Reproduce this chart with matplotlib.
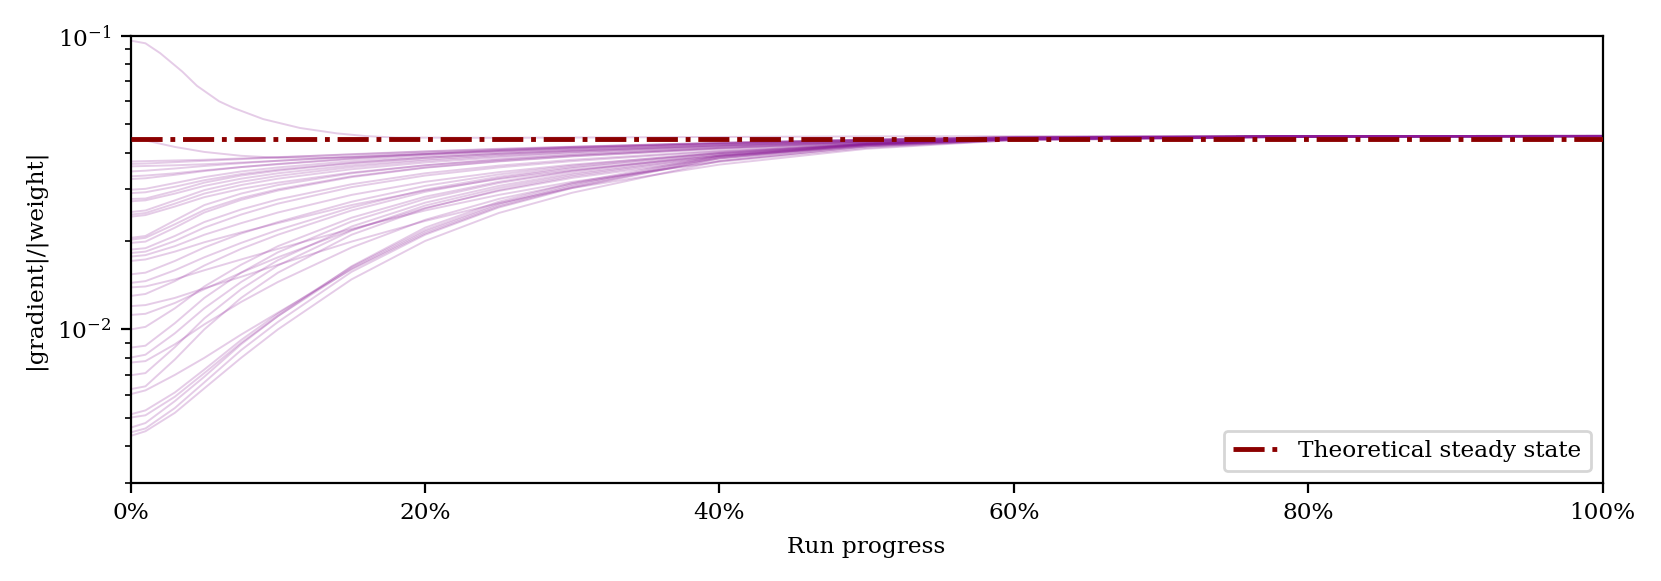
import matplotlib
matplotlib.use("Agg")
import matplotlib.pyplot as plt
from matplotlib.ticker import FuncFormatter

plt.rcParams['font.family'] = ['DejaVu Serif']
plt.rcParams['mathtext.fontset'] = 'dejavuserif'
plt.rcParams['font.size'] = 8.4

# run progress (%) at which each curve is sampled
progress = [0, 1, 3, 5, 7.5, 10, 15, 20, 25, 30, 40, 50, 60, 80, 100]
# the single curve that starts above the steady state is read at finer steps
progress_a = [0, 1, 2, 3.5, 4.5, 6, 7, 9, 11.5, 14, 16, 18, 25, 30, 40, 50, 60, 80, 100]

steady_state = 0.0446

family_a = [
    [0.0962, 0.0942, 0.0872, 0.0755, 0.0675, 0.0598, 0.0567, 0.0520, 0.0485, 0.0465, 0.0455, 0.0450, 0.0449, 0.0450, 0.0452, 0.0454, 0.0455, 0.0455, 0.0455],
]
family_b = [
    [0.0446, 0.0440, 0.0418, 0.0402, 0.0390, 0.0384, 0.0385, 0.0395, 0.0408, 0.0418, 0.0432, 0.0443, 0.0452, 0.0455, 0.0455],
]
family_c = [
    [0.0373, 0.0374, 0.0376, 0.0378, 0.0382, 0.0386, 0.0394, 0.0403, 0.0411, 0.0418, 0.0431, 0.0442, 0.0451, 0.0455, 0.0456],
    [0.0366, 0.0367, 0.0371, 0.0375, 0.0380, 0.0385, 0.0395, 0.0404, 0.0412, 0.0419, 0.0432, 0.0443, 0.0452, 0.0455, 0.0456],
    [0.0359, 0.0360, 0.0362, 0.0365, 0.0370, 0.0375, 0.0386, 0.0396, 0.0405, 0.0413, 0.0428, 0.0441, 0.0450, 0.0455, 0.0455],
    [0.0345, 0.0347, 0.0353, 0.0360, 0.0368, 0.0375, 0.0388, 0.0399, 0.0408, 0.0416, 0.0430, 0.0442, 0.0451, 0.0455, 0.0456],
    [0.0332, 0.0334, 0.0340, 0.0348, 0.0357, 0.0365, 0.0380, 0.0393, 0.0403, 0.0412, 0.0427, 0.0440, 0.0450, 0.0454, 0.0455],
    [0.0325, 0.0327, 0.0336, 0.0346, 0.0357, 0.0366, 0.0382, 0.0395, 0.0405, 0.0414, 0.0429, 0.0441, 0.0451, 0.0455, 0.0456],
]
family_d = [
    [0.0299, 0.0301, 0.0315, 0.0330, 0.0345, 0.0356, 0.0374, 0.0388, 0.0399, 0.0408, 0.0424, 0.0438, 0.0449, 0.0455, 0.0456],
    [0.0291, 0.0293, 0.0306, 0.0322, 0.0338, 0.0350, 0.0369, 0.0384, 0.0396, 0.0406, 0.0423, 0.0437, 0.0448, 0.0454, 0.0455],
    [0.0278, 0.0279, 0.0296, 0.0316, 0.0334, 0.0347, 0.0368, 0.0384, 0.0396, 0.0406, 0.0423, 0.0437, 0.0448, 0.0455, 0.0456],
    [0.0273, 0.0275, 0.0290, 0.0308, 0.0326, 0.0340, 0.0362, 0.0379, 0.0392, 0.0403, 0.0421, 0.0436, 0.0448, 0.0454, 0.0455],
    [0.0251, 0.0254, 0.0275, 0.0298, 0.0318, 0.0333, 0.0357, 0.0375, 0.0389, 0.0401, 0.0420, 0.0436, 0.0448, 0.0455, 0.0456],
    [0.0246, 0.0249, 0.0268, 0.0290, 0.0310, 0.0326, 0.0351, 0.0370, 0.0385, 0.0398, 0.0418, 0.0435, 0.0447, 0.0454, 0.0455],
    [0.0242, 0.0245, 0.0262, 0.0282, 0.0301, 0.0316, 0.0342, 0.0362, 0.0378, 0.0392, 0.0415, 0.0433, 0.0446, 0.0454, 0.0455],
]
family_e = [
    [0.0205, 0.0208, 0.0235, 0.0265, 0.0290, 0.0310, 0.0340, 0.0362, 0.0379, 0.0393, 0.0415, 0.0433, 0.0446, 0.0454, 0.0455],
    [0.0202, 0.0205, 0.0228, 0.0255, 0.0280, 0.0300, 0.0332, 0.0356, 0.0374, 0.0389, 0.0413, 0.0432, 0.0446, 0.0454, 0.0455],
    [0.0197, 0.0199, 0.0222, 0.0250, 0.0276, 0.0297, 0.0330, 0.0355, 0.0373, 0.0388, 0.0412, 0.0431, 0.0445, 0.0454, 0.0455],
    [0.0187, 0.0189, 0.0208, 0.0232, 0.0256, 0.0277, 0.0312, 0.0340, 0.0361, 0.0378, 0.0406, 0.0428, 0.0444, 0.0453, 0.0455],
    [0.0182, 0.0184, 0.0200, 0.0222, 0.0246, 0.0268, 0.0305, 0.0334, 0.0356, 0.0374, 0.0404, 0.0427, 0.0444, 0.0453, 0.0455],
    [0.0177, 0.0179, 0.0192, 0.0210, 0.0230, 0.0250, 0.0287, 0.0318, 0.0343, 0.0364, 0.0398, 0.0424, 0.0442, 0.0453, 0.0455],
    [0.0171, 0.0173, 0.0184, 0.0198, 0.0214, 0.0230, 0.0265, 0.0297, 0.0325, 0.0349, 0.0390, 0.0420, 0.0440, 0.0452, 0.0455],
]
family_n = [
    [0.0154, 0.0156, 0.0171, 0.0190, 0.0212, 0.0232, 0.0272, 0.0308, 0.0337, 0.0361, 0.0401, 0.0430, 0.0447, 0.0454, 0.0455],
    [0.0144, 0.0146, 0.0159, 0.0176, 0.0197, 0.0218, 0.0260, 0.0299, 0.0331, 0.0357, 0.0399, 0.0429, 0.0446, 0.0454, 0.0455],
    [0.0139, 0.0140, 0.0148, 0.0159, 0.0173, 0.0188, 0.0220, 0.0254, 0.0287, 0.0318, 0.0372, 0.0415, 0.0442, 0.0453, 0.0455],
    [0.0130, 0.0132, 0.0146, 0.0165, 0.0188, 0.0210, 0.0254, 0.0294, 0.0327, 0.0354, 0.0398, 0.0428, 0.0446, 0.0454, 0.0455],
    [0.0120, 0.0121, 0.0128, 0.0138, 0.0151, 0.0166, 0.0199, 0.0234, 0.0269, 0.0303, 0.0364, 0.0412, 0.0441, 0.0453, 0.0455],
    [0.0112, 0.0113, 0.0123, 0.0137, 0.0156, 0.0176, 0.0218, 0.0259, 0.0296, 0.0328, 0.0382, 0.0421, 0.0444, 0.0454, 0.0455],
]
family_m = [
    [0.0100, 0.0102, 0.0118, 0.0140, 0.0166, 0.0192, 0.0240, 0.0283, 0.0318, 0.0347, 0.0395, 0.0428, 0.0446, 0.0454, 0.0455],
    [0.00867, 0.0088, 0.0105, 0.0128, 0.0156, 0.0183, 0.0233, 0.0278, 0.0315, 0.0345, 0.0394, 0.0427, 0.0446, 0.0454, 0.0455],
    [0.00802, 0.0082, 0.0097, 0.0118, 0.0145, 0.0172, 0.0224, 0.0270, 0.0308, 0.0340, 0.0391, 0.0426, 0.0445, 0.0454, 0.0455],
    [0.00771, 0.0078, 0.0089, 0.0104, 0.0124, 0.0145, 0.0190, 0.0236, 0.0278, 0.0314, 0.0375, 0.0419, 0.0443, 0.0453, 0.0455],
    [0.00698, 0.0071, 0.0087, 0.0109, 0.0137, 0.0165, 0.0217, 0.0264, 0.0303, 0.0336, 0.0389, 0.0425, 0.0445, 0.0454, 0.0455],
    [0.00626, 0.0064, 0.0079, 0.0100, 0.0128, 0.0156, 0.0210, 0.0258, 0.0298, 0.0332, 0.0387, 0.0424, 0.0445, 0.0454, 0.0455],
]
family_l = [
    [0.00602, 0.0062, 0.0070, 0.0080, 0.0096, 0.0114, 0.0160, 0.0212, 0.0262, 0.0305, 0.0383, 0.0425, 0.0446, 0.0454, 0.0455],
    [0.00514, 0.0053, 0.0061, 0.0073, 0.0092, 0.0113, 0.0163, 0.0218, 0.0268, 0.0311, 0.0388, 0.0428, 0.0447, 0.0454, 0.0455],
    [0.00501, 0.0051, 0.0059, 0.0071, 0.0090, 0.0111, 0.0161, 0.0215, 0.0265, 0.0308, 0.0386, 0.0427, 0.0446, 0.0454, 0.0455],
    [0.00463, 0.0048, 0.0057, 0.0069, 0.0089, 0.0111, 0.0164, 0.0222, 0.0272, 0.0315, 0.0391, 0.0429, 0.0447, 0.0454, 0.0455],
    [0.00446, 0.0046, 0.0054, 0.0066, 0.0085, 0.0106, 0.0157, 0.0210, 0.0260, 0.0303, 0.0382, 0.0424, 0.0445, 0.0454, 0.0455],
    [0.00434, 0.0045, 0.0052, 0.0063, 0.0080, 0.0100, 0.0148, 0.0200, 0.0249, 0.0292, 0.0374, 0.0420, 0.0444, 0.0453, 0.0455],
]

x_ticks = [0, 20, 40, 60, 80, 100]

fig = plt.figure(figsize=(1661 / 200, 581 / 200), dpi=200)
ax = fig.add_axes([0.0787, 0.1687, 0.8861, 0.7699])

line_style = dict(color='#8b1a96', alpha=0.22, lw=0.7, zorder=2)
for series in family_a:
    ax.plot(progress_a, series, **line_style)
for fam in [family_b, family_c, family_d, family_e, family_n, family_m, family_l]:
    for series in fam:
        ax.plot(progress, series, **line_style)

ax.axhline(steady_state, color='#8b0000', ls='-.', lw=1.75, zorder=3,
           label='Theoretical steady state')

ax.set_yscale('log')
ax.set_ylim(0.003, 0.1)
ax.set_xlim(0, 100)
ax.set_xticks(x_ticks)
ax.xaxis.set_major_formatter(FuncFormatter(lambda v, p: f"{v:.0f}%"))
ax.set_xlabel('Run progress')
ax.set_ylabel('|gradient|/|weight|')
ax.legend(loc='lower right')

fig.savefig('out.png', dpi=200)
